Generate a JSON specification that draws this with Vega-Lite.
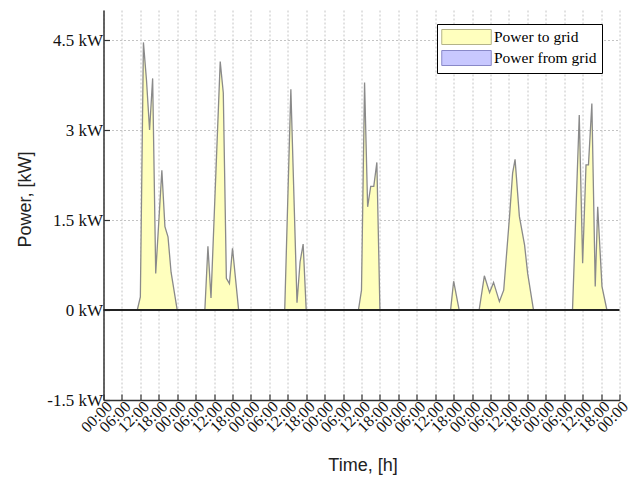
{
  "$schema": "https://vega.github.io/schema/vega-lite/v6.json",
  "width": 516,
  "height": 390,
  "autosize": {"type": "none"},
  "padding": {"left": 103.5, "top": 10, "right": 21.5, "bottom": 77},
  "background": "white",
  "config": {
    "view": {"stroke": null},
    "axis": {
      "domainColor": "#333333",
      "domainWidth": 1.5,
      "tickColor": "#333333",
      "tickWidth": 1.2,
      "tickSize": -6,
      "grid": true,
      "gridColor": "#c4c4c4",
      "gridDash": [2, 2],
      "gridWidth": 1,
      "labelFont": "Liberation Serif",
      "labelColor": "#111111",
      "titleFont": "Liberation Sans",
      "titleFontWeight": "normal",
      "titleFontSize": 18,
      "titleColor": "#222222"
    }
  },
  "datasets": {
    "grid": [
      {"h": 11, "p": 0, "s": "Power to grid"},
      {"h": 12, "p": 0.22, "s": "Power to grid"},
      {"h": 13, "p": 4.46, "s": "Power to grid"},
      {"h": 14, "p": 3.83, "s": "Power to grid"},
      {"h": 15, "p": 3.0, "s": "Power to grid"},
      {"h": 16, "p": 3.86, "s": "Power to grid"},
      {"h": 17, "p": 0.61, "s": "Power to grid"},
      {"h": 19, "p": 2.33, "s": "Power to grid"},
      {"h": 20, "p": 1.39, "s": "Power to grid"},
      {"h": 21, "p": 1.22, "s": "Power to grid"},
      {"h": 22, "p": 0.63, "s": "Power to grid"},
      {"h": 24, "p": 0, "s": "Power to grid"},
      {"h": 33, "p": 0, "s": "Power to grid"},
      {"h": 34, "p": 1.06, "s": "Power to grid"},
      {"h": 35, "p": 0.2, "s": "Power to grid"},
      {"h": 38, "p": 4.14, "s": "Power to grid"},
      {"h": 39, "p": 3.62, "s": "Power to grid"},
      {"h": 40, "p": 0.53, "s": "Power to grid"},
      {"h": 41, "p": 0.44, "s": "Power to grid"},
      {"h": 42, "p": 1.03, "s": "Power to grid"},
      {"h": 44, "p": 0, "s": "Power to grid"},
      {"h": 59, "p": 0, "s": "Power to grid"},
      {"h": 61, "p": 3.68, "s": "Power to grid"},
      {"h": 63, "p": 0.12, "s": "Power to grid"},
      {"h": 64, "p": 0.8, "s": "Power to grid"},
      {"h": 65, "p": 1.1, "s": "Power to grid"},
      {"h": 66, "p": 0, "s": "Power to grid"},
      {"h": 83, "p": 0, "s": "Power to grid"},
      {"h": 84, "p": 0.33, "s": "Power to grid"},
      {"h": 85, "p": 3.79, "s": "Power to grid"},
      {"h": 86, "p": 1.72, "s": "Power to grid"},
      {"h": 87, "p": 2.06, "s": "Power to grid"},
      {"h": 88, "p": 2.06, "s": "Power to grid"},
      {"h": 89, "p": 2.46, "s": "Power to grid"},
      {"h": 90, "p": 0, "s": "Power to grid"},
      {"h": 113, "p": 0, "s": "Power to grid"},
      {"h": 114, "p": 0.48, "s": "Power to grid"},
      {"h": 115.8, "p": 0, "s": "Power to grid"},
      {"h": 122.3, "p": 0, "s": "Power to grid"},
      {"h": 124, "p": 0.57, "s": "Power to grid"},
      {"h": 125.7, "p": 0.29, "s": "Power to grid"},
      {"h": 127, "p": 0.46, "s": "Power to grid"},
      {"h": 128.9, "p": 0.14, "s": "Power to grid"},
      {"h": 130.3, "p": 0.33, "s": "Power to grid"},
      {"h": 132.2, "p": 1.56, "s": "Power to grid"},
      {"h": 133.2, "p": 2.28, "s": "Power to grid"},
      {"h": 134, "p": 2.51, "s": "Power to grid"},
      {"h": 135.4, "p": 1.56, "s": "Power to grid"},
      {"h": 137.1, "p": 1.08, "s": "Power to grid"},
      {"h": 138.1, "p": 0.61, "s": "Power to grid"},
      {"h": 140, "p": 0, "s": "Power to grid"},
      {"h": 152.7, "p": 0, "s": "Power to grid"},
      {"h": 154.9, "p": 3.25, "s": "Power to grid"},
      {"h": 156, "p": 0.78, "s": "Power to grid"},
      {"h": 157.1, "p": 2.42, "s": "Power to grid"},
      {"h": 157.9, "p": 2.42, "s": "Power to grid"},
      {"h": 159, "p": 3.44, "s": "Power to grid"},
      {"h": 160.1, "p": 0.39, "s": "Power to grid"},
      {"h": 160.9, "p": 1.72, "s": "Power to grid"},
      {"h": 162.3, "p": 0.39, "s": "Power to grid"},
      {"h": 163.9, "p": 0, "s": "Power to grid"}
    ],
    "zero": [{"z": 0}]
  },
  "layer": [
    {
      "data": {"name": "grid"},
      "mark": {"type": "area", "opacity": 1, "strokeWidth": 0},
      "encoding": {
        "x": {
          "field": "h",
          "type": "quantitative",
          "scale": {"domain": [0, 168], "nice": false, "zero": false},
          "axis": {
            "values": [0, 6, 12, 18, 24, 30, 36, 42, 48, 54, 60, 66, 72, 78, 84, 90, 96, 102, 108, 114, 120, 126, 132, 138, 144, 150, 156, 162, 168],
            "tickCount": 40,
            "labelExpr": "(datum.value % 24 < 10 ? '0' : '') + (datum.value % 24) + ':00'",
            "labelAngle": -45,
            "labelFontSize": 16,
            "labelPadding": 4,
            "labelOverlap": false,
            "labelFlush": false,
            "title": "Time, [h]",
            "titleX": 259,
            "titleY": 65,
            "titleAlign": "center",
            "titleBaseline": "middle"
          }
        },
        "y": {
          "field": "p",
          "type": "quantitative",
          "scale": {"domain": [-1.5, 5], "nice": false, "zero": false},
          "axis": {
            "values": [-1.5, 0, 1.5, 3, 4.5],
            "tickCount": 10,
            "labelExpr": "datum.value + ' kW'",
            "labelFontSize": 17,
            "labelPadding": 7,
            "labelOverlap": false,
            "labelFlush": false,
            "title": "Power, [kW]",
            "titleX": -78,
            "titleY": 189,
            "titleAngle": -90,
            "titleAlign": "center",
            "titleBaseline": "middle"
          }
        },
        "color": {
          "field": "s",
          "type": "nominal",
          "scale": {"domain": ["Power to grid", "Power from grid"], "range": ["#ffffbe", "#c8c8ff"]},
          "legend": {
            "title": null,
            "orient": "none",
            "legendX": 333.5,
            "legendY": 14,
            "symbolType": "M-3.3,-1H3.3V1H-3.3Z",
            "symbolSize": 225,
            "symbolOffset": 16.5,
            "symbolOpacity": 1,
            "symbolStrokeWidth": 1,
            "labelFont": "Liberation Serif",
            "labelFontSize": 15.5,
            "labelColor": "#000000",
            "labelOffset": 19.5,
            "strokeColor": "#000000",
            "fillColor": "#ffffff",
            "padding": 5,
            "rowPadding": 1,
            "encode": {
              "symbols": {
                "update": {
                  "stroke": {"signal": "datum.value === 'Power to grid' ? '#b4b488' : '#8888c8'"},
                  "strokeWidth": {"value": 1}
                }
              }
            }
          }
        }
      }
    },
    {
      "data": {"name": "grid"},
      "mark": {"type": "line", "color": "#8a8a8a", "strokeWidth": 1.3},
      "encoding": {
        "x": {"field": "h", "type": "quantitative"},
        "y": {"field": "p", "type": "quantitative"}
      }
    },
    {
      "data": {"name": "zero"},
      "mark": {"type": "rule", "color": "#222222", "strokeWidth": 2},
      "encoding": {
        "y": {"field": "z", "type": "quantitative"}
      }
    }
  ]
}
